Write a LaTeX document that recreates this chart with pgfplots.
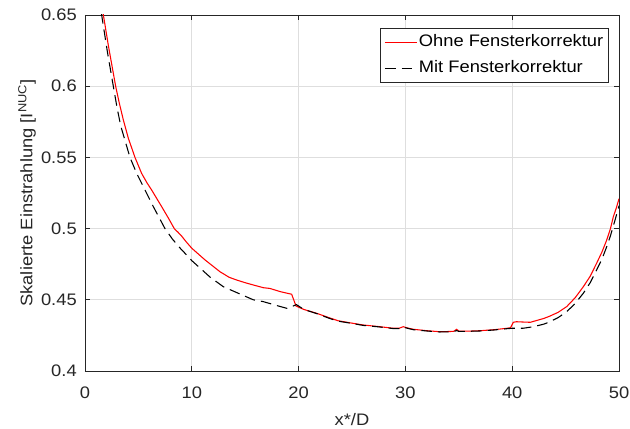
\documentclass[border=0pt]{standalone}
\usepackage{pgfplots}
\pgfplotsset{compat=1.18}
\usepackage{fontspec}
\setmainfont{Liberation Sans}[FakeStretch=1.1]

\begin{document}
\fontsize{12.5}{15}\selectfont
\begin{tikzpicture}
\begin{axis}[
  name=ax,
  scale only axis,
  width=400.5pt, height=267pt,
  xmin=0, xmax=50, ymin=0.4, ymax=0.65,
  xtick={0,10,20,30,40,50},
  ytick={0.4,0.45,0.5,0.55,0.6,0.65},
  /pgf/number format/assume math mode=true,
  /pgf/number format/fixed,
  /pgf/number format/precision=2,
  tick align=inside,
  major tick length=4pt,
  tick style={black!85, line width=0.6pt},
  axis line style={black!85, line width=0.6pt},
  grid=major,
  major grid style={black!13, line width=0.5pt},
  xticklabel style={inner sep=0pt, yshift=-12pt, text=black!85},
  yticklabel style={inner sep=0pt, xshift=-6pt, text=black!85},
  xlabel={x*/D},
  ylabel={Skalierte Einstrahlung [I\textsuperscript{NUC}]},
  xlabel style={at={(axis description cs:0.5,0)}, anchor=north, inner sep=0pt, yshift=-31.5pt, text=black!85},
  ylabel style={at={(axis description cs:-0.1086,0.5)}, anchor=center, text=black!85},
  legend style={at={(axis description cs:0.9813,0.9635)}, anchor=north east,
    draw=black!85, line width=0.6pt, fill=white,
    inner xsep=3pt, inner ysep=3.5pt, row sep=5.5pt,
    nodes={inner sep=1pt, text height=9pt, text depth=3pt},
    cells={anchor=west}},
  legend image code/.code={\draw[#1] (0pt,0pt) -- (24pt,0pt);},
]
% ohne Fensterkorrektur
\addplot[red, line width=0.8pt] coordinates {
  (1.4,0.664) (1.72,0.650) (2.2,0.628) (2.87,0.600) (3.2,0.5885) (3.59,0.5763)
  (4.06,0.5634) (4.68,0.550) (5.3,0.5388) (5.8,0.5322) (6.24,0.5271) (7.18,0.5154)
  (7.8,0.5075) (8.36,0.500) (8.7,0.4975) (9.0,0.4952) (9.5,0.4905) (10.0,0.4862)
  (11.24,0.478) (12.0,0.4735) (12.64,0.4697) (13.5,0.4658) (14.2,0.4639)
  (15.0,0.4620) (15.76,0.4604) (16.7,0.4585) (17.3,0.4580) (18.3,0.4557)
  (19.35,0.4539) (19.76,0.4456) (20.5,0.4432) (21.7,0.4405) (22.94,0.4372)
  (23.7,0.4353) (25.0,0.4336) (26.06,0.4323) (27.5,0.4312) (28.87,0.4300)
  (29.4,0.4300) (29.8,0.4311) (30.2,0.4302) (30.74,0.4293) (32.0,0.4283)
  (33.2,0.4276) (34.5,0.4278) (34.8,0.4293) (35.0,0.4280) (36.0,0.4280)
  (37.0,0.4283) (38.3,0.4290) (39.5,0.4300) (39.85,0.4304) (40.1,0.4342)
  (40.4,0.4346) (41.0,0.4344) (41.7,0.4342) (41.97,0.4348) (43.0,0.4370)
  (43.54,0.4386) (44.3,0.4412) (45.1,0.4452) (45.9,0.4515) (46.66,0.4592)
  (47.3,0.4665) (47.9,0.4756) (48.4,0.4835) (48.85,0.4920) (49.2,0.500)
  (49.47,0.5084) (49.75,0.5145) (50.0,0.5210)
};
\addlegendentry{Ohne Fensterkorrektur}

% mit Fensterkorrektur
\addplot[black, line width=0.8pt, dash pattern=on 8pt off 4.5pt] coordinates {
  (1.3,0.663) (1.56,0.650) (2.1,0.624) (2.65,0.600) (3.0,0.585) (3.35,0.572)
  (3.8,0.5605) (4.21,0.550) (4.84,0.5388) (5.62,0.5271) (6.4,0.5154) (7.49,0.500)
  (8.2,0.4925) (9.0,0.4855) (9.67,0.4803) (10.0,0.4775) (11.7,0.4660)
  (12.95,0.4592) (14.35,0.4546) (15.76,0.4500) (16.7,0.4487) (17.8,0.4463)
  (18.9,0.4440) (19.35,0.4452) (19.8,0.4466) (20.5,0.4432) (21.7,0.4403)
  (22.94,0.4368) (23.7,0.4350) (25.0,0.4334) (26.06,0.4320) (27.5,0.4310)
  (28.87,0.4298) (29.4,0.4298) (29.8,0.4308) (30.2,0.4300) (30.74,0.4290)
  (32.0,0.4281) (33.2,0.4274) (34.5,0.4276) (34.8,0.4284) (35.0,0.4278)
  (36.0,0.4279) (37.0,0.4281) (38.3,0.4288) (39.5,0.4297) (40.0,0.4300)
  (40.4,0.4300) (41.0,0.4300) (42.0,0.4311) (43.0,0.4330) (43.54,0.4346)
  (44.3,0.4375) (45.1,0.4416) (45.9,0.4475) (46.66,0.4546) (47.3,0.4620)
  (47.9,0.4709) (48.4,0.4785) (48.85,0.4873) (49.2,0.4950) (49.63,0.5060)
  (50.0,0.5160)
};
\addlegendentry{Mit Fensterkorrektur}
\end{axis}
\path ([xshift=-63.75pt,yshift=-42.75pt]ax.south west) rectangle ([xshift=8.25pt,yshift=11.25pt]ax.north east);
\end{tikzpicture}
\end{document}
